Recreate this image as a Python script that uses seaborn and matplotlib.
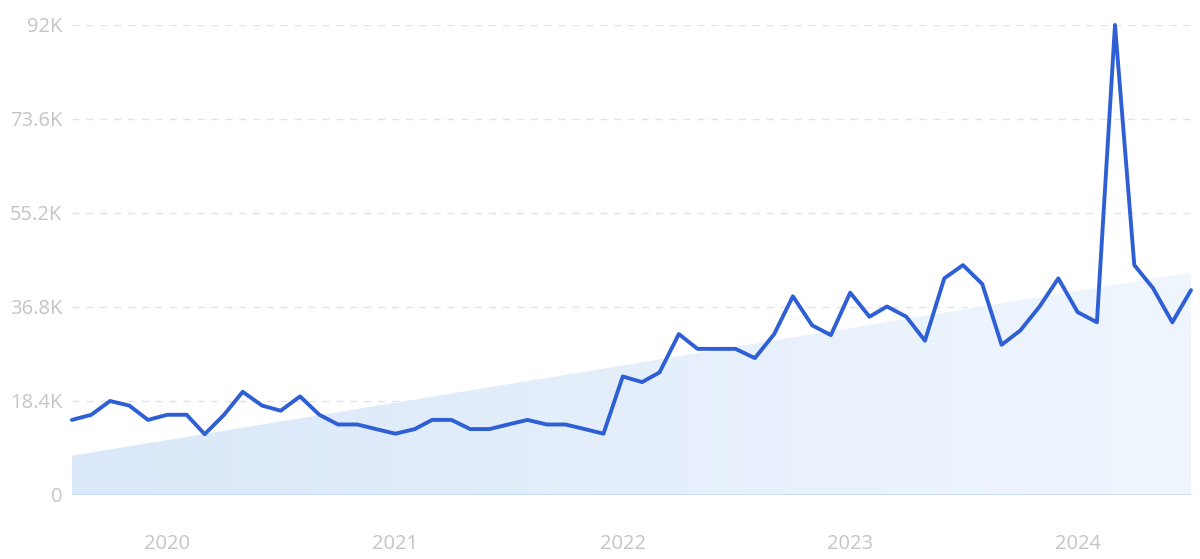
import numpy as np
import pandas as pd
import seaborn as sns
import matplotlib.pyplot as plt
import matplotlib.dates as mdates
from matplotlib.colors import LinearSegmentedColormap

# monthly search volume (thousands), Aug 2019 - Jul 2024
months = pd.date_range('2019-08-01', periods=60, freq='MS')
volume_k = [14.7, 15.7, 18.4, 17.5, 14.7, 15.7, 15.7, 11.9, 15.7, 20.2,
            17.5, 16.5, 19.3, 15.7, 13.8, 13.8, 12.9, 12.0, 12.9, 14.7,
            14.7, 12.9, 12.9, 13.8, 14.7, 13.8, 13.8, 12.9, 12.0, 23.2,
            22.1, 24.0, 31.5, 28.6, 28.6, 28.6, 26.8, 31.5, 38.9, 33.2,
            31.3, 39.6, 34.9, 36.9, 34.9, 30.2, 42.4, 45.0, 41.3, 29.4,
            32.2, 36.9, 42.4, 35.8, 33.8, 92.0, 45.0, 40.5, 33.8, 40.1]

# trend band (start / end value)
trend_start = 7700
trend_end = 43600

y_ticks = [0, 18400, 36800, 55200, 73600, 92000]
y_labels = ['0', '18.4K', '36.8K', '55.2K', '73.6K', '92K']
year_labels = ['2020', '2021', '2022', '2023', '2024']

df = pd.DataFrame({'month': months, 'volume': np.array(volume_k) * 1000})
trend = np.linspace(trend_start, trend_end, len(months))

sns.set_theme(style='white')
plt.rcParams['font.family'] = ['Open Sans', 'DejaVu Sans']

fig = plt.figure(figsize=(12, 5.59), dpi=100)
ax = fig.add_axes([0.06, 0.1145, 0.9325, 0.8408])

# trend area with a soft horizontal gradient
poly = ax.fill_between(months, 0, trend, color='none', lw=0)
x0, x1 = mdates.date2num(months[0]), mdates.date2num(months[-1])
cmap = LinearSegmentedColormap.from_list('trend', ['#dae8f9', '#f0f6fe'])
grad = np.linspace(0, 1, 256).reshape(1, -1)
img = ax.imshow(grad, extent=[x0, x1, 0, trend_end], aspect='auto',
                cmap=cmap, origin='lower', zorder=1)
img.set_clip_path(poly.get_paths()[0], transform=ax.transData)

# gridlines
for t in y_ticks[1:]:
    ax.axhline(t, color='#dde4ee', lw=1, ls=(0, (5, 5)), zorder=0)
ax.axhline(0, color='#c9daf3', lw=1.2, zorder=2)

sns.lineplot(data=df, x='month', y='volume', ax=ax, color='#2e5fd4',
             lw=2.8, zorder=3, clip_on=False)

ax.set_xlim(months[0], months[-1])
ax.set_ylim(0, 92000)
ax.set_yticks(y_ticks)
ax.set_yticklabels(y_labels)
ax.set_xticks([pd.Timestamp(f'{y}-01-01') for y in year_labels])
ax.set_xticklabels(year_labels)
ax.tick_params(axis='y', length=0, pad=7, labelsize=14.5, colors='#c3c5cb')
ax.tick_params(axis='x', length=0, pad=28, labelsize=14.5, colors='#c3c5cb')
ax.set_xlabel('')
ax.set_ylabel('')
sns.despine(ax=ax, left=True, bottom=True)

plt.savefig('out.png', dpi=100)
